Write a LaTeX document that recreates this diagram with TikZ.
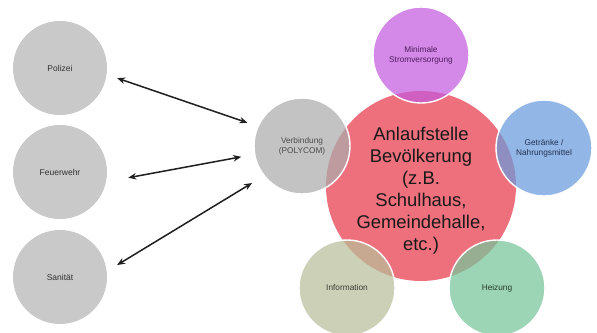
\documentclass[tikz,border=0pt]{standalone}
\usepackage{fontspec}
\setmainfont{Liberation Sans}
\usetikzlibrary{arrows.meta}
\definecolor{leftgray}{RGB}{201,201,201}
\definecolor{verbgray}{RGB}{172,172,172}
\definecolor{mainred}{RGB}{238,112,125}
\definecolor{purp}{RGB}{196,91,222}
\definecolor{blu}{RGB}{105,155,219}
\definecolor{grn}{RGB}{119,198,155}
\definecolor{infoc}{RGB}{184,191,155}
\definecolor{txtgray}{RGB}{50,50,50}
\begin{document}
\begin{tikzpicture}[x=1pt,y=-1pt,
  leftcirc/.style={circle,minimum size=94pt,inner sep=0pt,fill=leftgray,
    font=\fontsize{8.5}{10}\selectfont,text=txtgray,align=center},
  satcirc/.style={circle,minimum size=96pt,inner sep=0pt,fill=#1,fill opacity=0.72,
    draw=white,line width=1.4pt,text opacity=1,
    font=\fontsize{8.3}{10}\selectfont,align=center},
  arr/.style={{Stealth[length=8pt,width=6.5pt]}-{Stealth[length=8pt,width=6.5pt]},line width=1.5pt,color=black!88}
]
\useasboundingbox (0,0) rectangle (597,332);
\fill[white] (0,0) rectangle (597,332);

\node[leftcirc] (pol) at (60,68) {Polizei};
\node[leftcirc] (feu) at (60,172) {Feuerwehr};
\node[leftcirc] (san) at (60,277) {Sanität};

\node[circle,minimum size=190pt,inner sep=0pt,fill=mainred] (main) at (421,186) {};

\node[satcirc=verbgray,text=black!70] (verb) at (302,146) {Verbindung\\(POLYCOM)};
\node[satcirc=purp,text={rgb,255:red,80;green,30;blue,95}] (strom) at (421,55) {Minimale\\Stromversorgung};
\node[satcirc=blu,text={rgb,255:red,35;green,50;blue,85}] (getr) at (544,148) {Getränke /\\Nahrungsmittel};
\node[satcirc=grn,text={rgb,255:red,35;green,60;blue,45}] (heiz) at (497,288) {Heizung};
\node[satcirc=infoc,text={rgb,255:red,60;green,60;blue,50}] (info) at (347,288) {Information};

\node[font=\fontsize{18.4}{22}\selectfont,align=center,text=black!90] (mainlabel) at (421,191)
  {Anlaufstelle\\Bevölkerung\\(z.B.\\Schulhaus,\\Gemeindehalle,\\etc.)};

\draw[arr,shorten <=11pt,shorten >=10.7pt] (pol.-8) -- (verb.156);
\draw[arr,shorten <=22.5pt,shorten >=13pt] (feu.-12.4) -- (verb.190.3);
\draw[arr,shorten <=12pt,shorten >=13.5pt] (san.7.1) -- (verb.218.7);
\end{tikzpicture}
\end{document}
